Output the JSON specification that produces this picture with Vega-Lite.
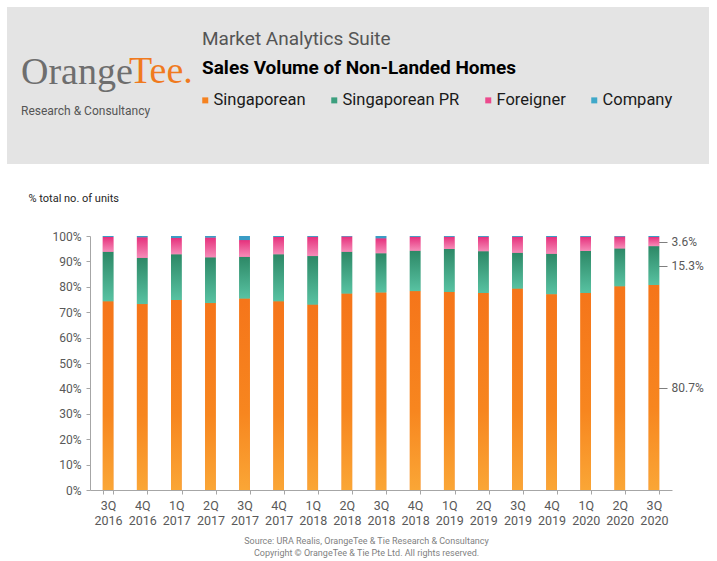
{
  "$schema": "https://vega.github.io/schema/vega-lite/v6.json",
  "padding": {"left": 7, "top": 7, "right": 8, "bottom": 4},
  "background": "#ffffff",
  "config": {"view": {"stroke": null}, "font": "Roboto"},
  "title": {
    "text": "Market Analytics Suite",
    "subtitle": "Sales Volume of Non-Landed Homes",
    "anchor": "start", "frame": "bounds", "offset": -71, "dx": 195,
    "font": "Roboto", "fontSize": 19, "fontWeight": "normal", "color": "#555555",
    "subtitleFont": "Roboto", "subtitleFontSize": 19, "subtitleFontWeight": "bold",
    "subtitleColor": "#000000", "subtitlePadding": 10
  },
  "spacing": 28,
  "vconcat": [
    {
      "width": 702, "height": 157,
      "view": {"fill": "#E4E4E4", "stroke": null},
      "data": {"values": []},
      "mark": {"type": "text"},
      "title": {
        "text": "Orange", "subtitle": "Research & Consultancy",
        "anchor": "start", "frame": "group", "offset": -110, "dx": 14,
        "font": "Liberation Serif", "fontSize": 38, "fontWeight": "normal", "color": "#6E6E6E",
        "subtitleFont": "Roboto", "subtitleFontSize": 12, "subtitleColor": "#555555", "subtitlePadding": 14
      }
    },
    {
      "spacing": 20,
      "hconcat": [
        {
          "width": 1, "height": 1,
          "view": {"stroke": null},
          "data": {"values": []},
          "mark": {"type": "text"}
        },
        {
          "width": 582, "height": 254,
          "view": {"stroke": null},
          "data": {"values": [
            {"quarter": "3Q 2016", "buyer": "Singaporean", "share": 74.3},
            {"quarter": "3Q 2016", "buyer": "Singaporean PR", "share": 19.5},
            {"quarter": "3Q 2016", "buyer": "Foreigner", "share": 5.8},
            {"quarter": "3Q 2016", "buyer": "Company", "share": 0.4},
            {"quarter": "4Q 2016", "buyer": "Singaporean", "share": 73.2},
            {"quarter": "4Q 2016", "buyer": "Singaporean PR", "share": 18.2},
            {"quarter": "4Q 2016", "buyer": "Foreigner", "share": 8.1},
            {"quarter": "4Q 2016", "buyer": "Company", "share": 0.5},
            {"quarter": "1Q 2017", "buyer": "Singaporean", "share": 74.8},
            {"quarter": "1Q 2017", "buyer": "Singaporean PR", "share": 18.0},
            {"quarter": "1Q 2017", "buyer": "Foreigner", "share": 6.4},
            {"quarter": "1Q 2017", "buyer": "Company", "share": 0.8},
            {"quarter": "2Q 2017", "buyer": "Singaporean", "share": 73.6},
            {"quarter": "2Q 2017", "buyer": "Singaporean PR", "share": 18.0},
            {"quarter": "2Q 2017", "buyer": "Foreigner", "share": 7.8},
            {"quarter": "2Q 2017", "buyer": "Company", "share": 0.6},
            {"quarter": "3Q 2017", "buyer": "Singaporean", "share": 75.4},
            {"quarter": "3Q 2017", "buyer": "Singaporean PR", "share": 16.4},
            {"quarter": "3Q 2017", "buyer": "Foreigner", "share": 6.6},
            {"quarter": "3Q 2017", "buyer": "Company", "share": 1.6},
            {"quarter": "4Q 2017", "buyer": "Singaporean", "share": 74.3},
            {"quarter": "4Q 2017", "buyer": "Singaporean PR", "share": 18.5},
            {"quarter": "4Q 2017", "buyer": "Foreigner", "share": 6.8},
            {"quarter": "4Q 2017", "buyer": "Company", "share": 0.4},
            {"quarter": "1Q 2018", "buyer": "Singaporean", "share": 73.0},
            {"quarter": "1Q 2018", "buyer": "Singaporean PR", "share": 19.1},
            {"quarter": "1Q 2018", "buyer": "Foreigner", "share": 7.6},
            {"quarter": "1Q 2018", "buyer": "Company", "share": 0.3},
            {"quarter": "2Q 2018", "buyer": "Singaporean", "share": 77.4},
            {"quarter": "2Q 2018", "buyer": "Singaporean PR", "share": 16.4},
            {"quarter": "2Q 2018", "buyer": "Foreigner", "share": 6.0},
            {"quarter": "2Q 2018", "buyer": "Company", "share": 0.2},
            {"quarter": "3Q 2018", "buyer": "Singaporean", "share": 77.8},
            {"quarter": "3Q 2018", "buyer": "Singaporean PR", "share": 15.4},
            {"quarter": "3Q 2018", "buyer": "Foreigner", "share": 5.9},
            {"quarter": "3Q 2018", "buyer": "Company", "share": 0.9},
            {"quarter": "4Q 2018", "buyer": "Singaporean", "share": 78.3},
            {"quarter": "4Q 2018", "buyer": "Singaporean PR", "share": 15.9},
            {"quarter": "4Q 2018", "buyer": "Foreigner", "share": 5.5},
            {"quarter": "4Q 2018", "buyer": "Company", "share": 0.3},
            {"quarter": "1Q 2019", "buyer": "Singaporean", "share": 78.0},
            {"quarter": "1Q 2019", "buyer": "Singaporean PR", "share": 16.9},
            {"quarter": "1Q 2019", "buyer": "Foreigner", "share": 4.8},
            {"quarter": "1Q 2019", "buyer": "Company", "share": 0.3},
            {"quarter": "2Q 2019", "buyer": "Singaporean", "share": 77.6},
            {"quarter": "2Q 2019", "buyer": "Singaporean PR", "share": 16.4},
            {"quarter": "2Q 2019", "buyer": "Foreigner", "share": 5.7},
            {"quarter": "2Q 2019", "buyer": "Company", "share": 0.3},
            {"quarter": "3Q 2019", "buyer": "Singaporean", "share": 79.3},
            {"quarter": "3Q 2019", "buyer": "Singaporean PR", "share": 14.1},
            {"quarter": "3Q 2019", "buyer": "Foreigner", "share": 6.3},
            {"quarter": "3Q 2019", "buyer": "Company", "share": 0.3},
            {"quarter": "4Q 2019", "buyer": "Singaporean", "share": 77.1},
            {"quarter": "4Q 2019", "buyer": "Singaporean PR", "share": 15.9},
            {"quarter": "4Q 2019", "buyer": "Foreigner", "share": 6.6},
            {"quarter": "4Q 2019", "buyer": "Company", "share": 0.4},
            {"quarter": "1Q 2020", "buyer": "Singaporean", "share": 77.6},
            {"quarter": "1Q 2020", "buyer": "Singaporean PR", "share": 16.5},
            {"quarter": "1Q 2020", "buyer": "Foreigner", "share": 5.6},
            {"quarter": "1Q 2020", "buyer": "Company", "share": 0.3},
            {"quarter": "2Q 2020", "buyer": "Singaporean", "share": 80.2},
            {"quarter": "2Q 2020", "buyer": "Singaporean PR", "share": 14.9},
            {"quarter": "2Q 2020", "buyer": "Foreigner", "share": 4.7},
            {"quarter": "2Q 2020", "buyer": "Company", "share": 0.2},
            {"quarter": "3Q 2020", "buyer": "Singaporean", "share": 80.7},
            {"quarter": "3Q 2020", "buyer": "Singaporean PR", "share": 15.3},
            {"quarter": "3Q 2020", "buyer": "Foreigner", "share": 3.6},
            {"quarter": "3Q 2020", "buyer": "Company", "share": 0.4}
          ]},
          "transform": [
            {"calculate": "indexof(['Singaporean','Singaporean PR','Foreigner','Company'], datum.buyer)", "as": "order"},
            {"stack": "share", "groupby": ["quarter"], "sort": [{"field": "order", "order": "ascending"}], "as": ["s0", "s1"]}
          ],
          "encoding": {
            "x": {
              "field": "quarter", "type": "ordinal", "sort": null,
              "scale": {"paddingInner": 0.69, "paddingOuter": 0.375},
              "axis": {
                "labelExpr": "datum.value ? split(datum.value, ' ') : ''", "labelAngle": 0,
                "labelFont": "Roboto", "labelFontSize": 12.5, "labelColor": "#595959", "labelLineHeight": 15,
                "labelPadding": 5, "tickBand": "extent", "tickSize": 4, "tickColor": "#A6A6A6",
                "domainColor": "#A6A6A6", "grid": false,
                "title": ["Source: URA Realis, OrangeTee & Tie Research & Consultancy", "Copyright © OrangeTee & Tie Pte Ltd. All rights reserved."],
                "titleFont": "Roboto", "titleFontSize": 9, "titleFontWeight": "normal", "titleColor": "#7F7F7F",
                "titleLineHeight": 12, "titlePadding": 10, "titleX": 276
              }
            }
          },
          "layer": [
            {
              "mark": {"type": "bar"},
              "encoding": {
                "y": {
                  "field": "s1", "type": "quantitative", "scale": {"domain": [0, 100]},
                  "axis": {
                    "orient": "left", "values": [0, 10, 20, 30, 40, 50, 60, 70, 80, 90, 100],
                    "labelExpr": "datum.value + '%'", "labelFont": "Roboto", "labelFontSize": 12,
                    "labelColor": "#595959", "labelPadding": 5, "tickSize": 4, "tickColor": "#A6A6A6",
                    "domainColor": "#A6A6A6", "grid": false,
                    "title": "% total no. of units", "titleAngle": 0, "titleAlign": "left", "titleBaseline": "middle",
                    "titleX": -62, "titleY": -38, "titleFont": "Roboto", "titleFontSize": 11,
                    "titleFontWeight": "normal", "titleColor": "#262626"
                  }
                },
                "y2": {"field": "s0"},
                "color": {
                  "field": "buyer", "type": "nominal",
                  "scale": {"domain": ["Singaporean", "Singaporean PR", "Foreigner", "Company"],
                            "range": ["#F58220", "#3C9F7E", "#EC4A8D", "#3FA8C9"]},
                  "legend": {
                    "orient": "none", "legendX": 122, "legendY": 85, "direction": "horizontal",
                    "padding": 0, "symbolType": "square", "symbolSize": 36, "symbolStrokeWidth": 0,
                    "labelFont": "Roboto", "labelFontSize": 16.5, "labelColor": "#1A1A1A", "labelOffset": 0,
                    "labelLimit": 0, "columnPadding": 20,
                    "title": "Tee.", "titleOrient": "left", "titleFont": "Liberation Serif", "titleFontSize": 38,
                    "titleFontWeight": "normal", "titleColor": "#F07A1E", "titleBaseline": "line-bottom",
                    "titleLineHeight": 56, "titlePadding": 4
                  }
                }
              }
            },
            {
              "transform": [{"filter": "datum.buyer == 'Singaporean'"}],
              "mark": {"type": "bar"},
              "encoding": {
                "y": {
                  "field": "s1", "type": "quantitative",
                  "axis": {
                    "orient": "right", "offset": -15, "values": [40.35, 88.35, 97.8],
                    "labelExpr": "datum.value > 95 ? '3.6%' : (datum.value > 60 ? '15.3%' : '80.7%')",
                    "domain": false, "ticks": true, "tickSize": 10, "tickColor": "#7F7F7F",
                    "labelPadding": 4, "labelFont": "Roboto", "labelFontSize": 12, "labelColor": "#595959",
                    "grid": false, "title": null
                  }
                },
                "y2": {"field": "s0"},
                "fill": {"value": {"gradient": "linear", "x1": 0, "y1": 0, "x2": 0, "y2": 1,
                  "stops": [{"offset": 0, "color": "#F5751A"}, {"offset": 0.6, "color": "#F7861F"}, {"offset": 1, "color": "#FAA636"}]}}
              }
            },
            {
              "transform": [{"filter": "datum.buyer == 'Singaporean PR'"}],
              "mark": {"type": "bar"},
              "encoding": {
                "y": {"field": "s1", "type": "quantitative", "axis": null},
                "y2": {"field": "s0"},
                "fill": {"value": {"gradient": "linear", "x1": 0, "y1": 0, "x2": 0, "y2": 1,
                  "stops": [{"offset": 0, "color": "#2D8866"}, {"offset": 1, "color": "#58C2A2"}]}}
              }
            },
            {
              "transform": [{"filter": "datum.buyer == 'Foreigner'"}],
              "mark": {"type": "bar"},
              "encoding": {
                "y": {"field": "s1", "type": "quantitative", "axis": null},
                "y2": {"field": "s0"},
                "fill": {"value": {"gradient": "linear", "x1": 0, "y1": 0, "x2": 0, "y2": 1,
                  "stops": [{"offset": 0, "color": "#E6307C"}, {"offset": 1, "color": "#F58CB8"}]}}
              }
            },
            {
              "transform": [{"filter": "datum.buyer == 'Company'"}],
              "mark": {"type": "bar"},
              "encoding": {
                "y": {"field": "s1", "type": "quantitative", "axis": null},
                "y2": {"field": "s0"},
                "fill": {"value": "#3A9CC5"}
              }
            }
          ],
          "resolve": {"axis": {"y": "independent"}}
        }
      ]
    }
  ]
}
